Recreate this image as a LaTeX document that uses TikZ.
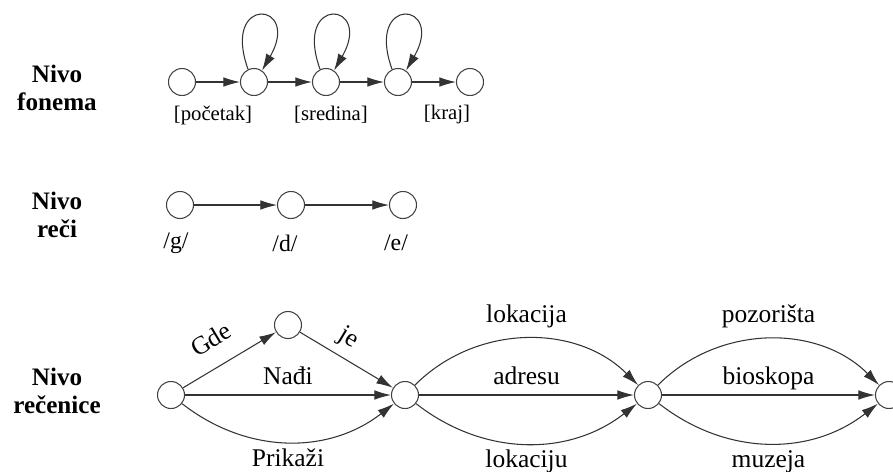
\documentclass[tikz,border=0pt]{standalone}
\usepackage{fontspec}
\setmainfont{Liberation Serif}
\usetikzlibrary{arrows.meta}

\begin{document}
\begin{tikzpicture}[x=0.02cm,y=-0.02cm]
\useasboundingbox (0,0) rectangle (893,471);

\tikzstyle{state}=[draw,circle,minimum size=0.54cm,inner sep=0pt,line width=0.6pt,black!75]
\tikzstyle{level}=[font=\fontsize{14.3}{15.5}\selectfont\bfseries,align=center]
\tikzstyle{arc}=[-{Latex[length=9.5pt,width=5.5pt]},line width=0.6pt,black!80]
\tikzstyle{word}=[font=\fontsize{14.5}{16}\selectfont,inner sep=1pt,black,text height=10pt,text depth=3.2pt]
\tikzstyle{phone}=[font=\fontsize{11.8}{13}\selectfont]
\tikzstyle{wsym}=[font=\fontsize{13.5}{15}\selectfont]

% nivo fonema
\node (lvlf) [level] at (57,88) {Nivo\\fonema};
\node (f1) [state] at (182,82) {};
\node (f2) [state] at (254,82) {};
\node (f3) [state] at (326,82) {};
\node (f4) [state] at (398,82) {};
\node (f5) [state] at (470,82) {};

\node (pbeg) [phone] at (213,115) {[početak]};
\node (pmid) [phone] at (331,115) {[sredina]};
\node (pend) [phone] at (447,115) {[kraj]};

\draw[arc] (f1) -- (f2);
\draw[arc] (f2) -- (f3);
\draw[arc] (f3) -- (f4);
\draw[arc] (f4) -- (f5);
\foreach \s in {f2,f3,f4}
  \draw[arc] (\s.115) to[out=110,in=60,min distance=1.6cm] (\s.55);

% nivo reci
\node (lvlr) [level] at (57,215) {Nivo\\reči};
\node (r1) [state] at (180,205) {};
\node (r2) [state] at (291,205) {};
\node (r3) [state] at (403,205) {};

\node (wg) [wsym] at (176,243) {/g/};
\node (wd) [wsym] at (285,243) {/d/};
\node (we) [wsym] at (396,243) {/e/};

\draw[arc] (r1) -- (r2);
\draw[arc] (r2) -- (r3);

% nivo recenice
\node (lvls) [level] at (57,391) {Nivo\\rečenice};
\node (b1) [state] at (171,395) {};
\node (b2) [state] at (288,325) {};
\node (b3) [state] at (405,395) {};
\node (b4) [state] at (648,395) {};
\node (b5) [state] at (889,395) {};

\draw[arc] (b1) -- node[word,sloped,pos=0.45,above=6pt] {Gde} (b2);
\draw[arc] (b2) -- node[word,sloped,pos=0.41,above=3pt] {je} (b3);
\draw[arc] (b1) -- node[word,above=1.5pt] {Nađi} (b3);
\draw[arc] (b1) to[out=-38,in=-142] node[word,below=2.5pt] {Prikaži} (b3);

\draw[arc] (b3) to[out=45,in=135] node[word,above=5pt] {lokacija} (b4);
\draw[arc] (b3) -- node[word,above=1.5pt] {adresu} (b4);
\draw[arc] (b3) to[out=-38,in=-142] node[word,below=2.5pt] {lokaciju} (b4);

\draw[arc] (b4) to[out=45,in=135] node[word,above=5pt] {pozorišta} (b5);
\draw[arc] (b4) -- node[word,above=1.5pt] {bioskopa} (b5);
\draw[arc] (b4) to[out=-38,in=-142] node[word,below=2.5pt] {muzeja} (b5);
\end{tikzpicture}
\end{document}
